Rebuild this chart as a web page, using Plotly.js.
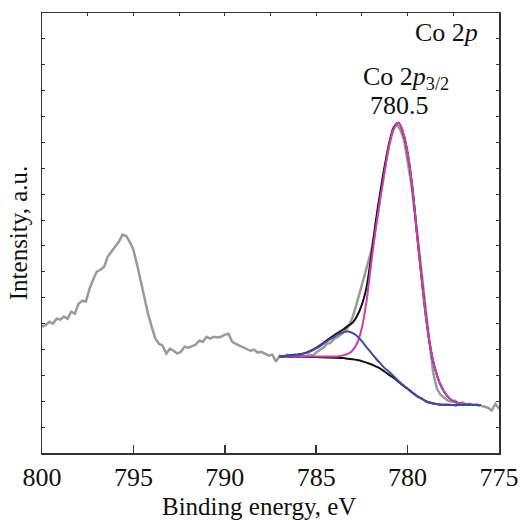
<!DOCTYPE html>
<html>
<head>
<meta charset="utf-8">
<script src="https://cdn.plot.ly/plotly-3.0.1.min.js"></script>
<style>html,body{margin:0;padding:0;background:#fff;}#chart{width:521px;height:520px;}</style>
</head>
<body>
<div id="chart"></div>
<script>
// Measured spectrum: binding energy (eV) from 800 down to 775 in 0.2 eV steps
const expEnergy = [800.0,799.8,799.6,799.4,799.2,799.0,798.8,798.6,798.4,798.2,798.0,797.8,797.6,797.4,797.2,797.0,796.8,796.6,796.4,796.2,796.0,795.8,795.6,795.4,795.2,795.0,794.8,794.6,794.4,794.2,794.0,793.8,793.6,793.4,793.2,793.0,792.8,792.6,792.4,792.2,792.0,791.8,791.6,791.4,791.2,791.0,790.8,790.6,790.4,790.2,790.0,789.8,789.6,789.4,789.2,789.0,788.8,788.6,788.4,788.2,788.0,787.8,787.6,787.4,787.2,787.0,786.8,786.6,786.4,786.2,786.0,785.8,785.6,785.4,785.2,785.0,784.8,784.6,784.4,784.2,784.0,783.8,783.6,783.4,783.2,783.0,782.8,782.6,782.4,782.2,782.0,781.8,781.6,781.4,781.2,781.0,780.8,780.6,780.4,780.2,780.0,779.8,779.6,779.4,779.2,779.0,778.8,778.6,778.4,778.2,778.0,777.8,777.6,777.4,777.2,777.0,776.8,776.6,776.4,776.2,776.0,775.8,775.6,775.4,775.2,775.0];
const expIntensity = [4.88,4.94,5.07,5.00,5.19,5.15,5.27,5.19,5.46,5.38,5.77,5.88,5.85,6.35,6.70,7.01,7.08,7.20,7.59,7.78,8.01,8.16,8.43,8.39,8.16,7.85,7.28,6.62,6.04,5.38,4.88,4.42,4.22,4.15,3.84,4.03,3.95,3.84,3.91,4.11,4.07,4.11,4.18,4.34,4.30,4.49,4.42,4.49,4.46,4.49,4.57,4.61,4.30,4.22,4.15,4.07,4.03,3.95,3.99,3.88,3.91,3.84,3.76,3.80,3.53,3.76,3.72,3.80,3.72,3.80,3.72,3.76,3.72,3.80,3.76,3.88,3.99,4.07,4.22,4.26,4.42,4.49,4.61,4.73,4.92,5.27,5.73,6.27,6.74,7.24,7.78,8.47,9.40,10.29,11.18,11.95,12.45,12.72,12.49,12.11,11.33,10.41,9.28,7.97,6.89,5.61,4.26,3.10,2.49,2.25,2.14,2.02,1.98,2.02,1.87,1.95,1.87,1.90,1.87,1.87,1.83,1.79,1.75,1.64,1.90,1.71];

// Fit curves: energy grid 787.0 -> 776.0 (0.25 eV)
const fitEnergy = [787.0,786.75,786.5,786.25,786.0,785.75,785.5,785.25,785.0,784.75,784.5,784.25,784.0,783.75,783.5,783.25,783.0,782.75,782.5,782.25,782.0,781.75,781.5,781.25,781.0,780.75,780.5,780.25,780.0,779.75,779.5,779.25,779.0,778.75,778.5,778.25,778.0,777.75,777.5,777.25,777.0,776.75,776.5,776.25,776.0];
const background = [3.73,3.73,3.72,3.72,3.72,3.72,3.71,3.71,3.71,3.70,3.69,3.69,3.68,3.67,3.67,3.64,3.62,3.59,3.55,3.49,3.43,3.35,3.26,3.14,3.01,2.90,2.75,2.61,2.48,2.34,2.21,2.11,2.00,1.94,1.90,1.87,1.86,1.86,1.85,1.85,1.85,1.85,1.85,1.85,1.85];
const envelope = [3.72,3.74,3.77,3.79,3.81,3.84,3.89,3.97,4.06,4.18,4.31,4.44,4.56,4.67,4.78,4.92,5.04,5.31,5.73,6.39,7.55,8.90,10.06,11.10,11.99,12.59,12.76,12.38,11.60,10.33,8.55,6.85,5.27,4.07,3.26,2.72,2.37,2.14,2.00,1.93,1.89,1.87,1.86,1.85,1.85];
const peakMain = [3.73,3.73,3.73,3.73,3.73,3.73,3.73,3.73,3.73,3.73,3.73,3.73,3.73,3.74,3.78,3.84,3.97,4.26,4.84,5.85,7.28,8.63,9.83,10.91,11.91,12.55,12.76,12.38,11.60,10.33,8.55,6.85,5.27,4.07,3.26,2.72,2.37,2.14,2.00,1.93,1.89,1.87,1.86,1.85,1.85];
const peakSat = [3.72,3.74,3.76,3.78,3.80,3.83,3.88,3.95,4.04,4.15,4.27,4.39,4.50,4.60,4.67,4.69,4.63,4.51,4.32,4.09,3.88,3.66,3.47,3.28,3.13,2.96,2.78,2.63,2.48,2.34,2.21,2.11,2.00,1.94,1.90,1.87,1.86,1.86,1.85,1.85,1.85,1.85,1.85,1.85,1.85];

const xTicks = [800,795,790,785,780,775];
const xTickText = ['800','795','790','785','780','775'];

const serif = 'Liberation Serif';

const traces = [
  {x: expEnergy, y: expIntensity, mode: 'lines', line: {color: '#9a9a9a', width: 2.5}, hoverinfo: 'skip'},
  {x: fitEnergy, y: background, mode: 'lines', line: {color: '#111111', width: 2, shape: 'spline'}},
  {x: fitEnergy, y: envelope, mode: 'lines', line: {color: '#111111', width: 2, shape: 'spline'}},
  {x: fitEnergy, y: peakMain, mode: 'lines', line: {color: '#cc3fb0', width: 2, shape: 'spline'}},
  {x: fitEnergy, y: peakSat, mode: 'lines', line: {color: '#3c4aae', width: 2, shape: 'spline'}},
  {x: [800, 775], y: [null, null], xaxis: 'x2', mode: 'lines', showlegend: false, hoverinfo: 'skip'}
];

const layout = {
  width: 521, height: 520,
  margin: {l: 42, r: 22, t: 13, b: 67},
  paper_bgcolor: '#ffffff', plot_bgcolor: '#ffffff',
  showlegend: false,
  font: {family: serif, color: '#111111', size: 26},
  xaxis: {
    range: [800, 775], tickmode: 'array', tickvals: xTicks, ticktext: xTickText,
    ticks: 'inside', ticklen: 8, tickwidth: 1.5, tickcolor: '#333',
    showline: true, linecolor: '#333', linewidth: 1.5, mirror: false,
    showgrid: false, zeroline: false,
    tickfont: {family: serif, size: 26, color: '#111'}
  },
  xaxis2: {
    overlaying: 'x', side: 'top', range: [800, 775], dtick: 2.5, tick0: 800,
    ticks: 'inside', ticklen: 3, tickwidth: 1, tickcolor: '#333',
    showticklabels: false, showline: true, linecolor: '#333', linewidth: 1.5,
    showgrid: false, zeroline: false
  },
  yaxis: {
    range: [0, 17], dtick: 1, tick0: 0,
    ticks: 'inside', ticklen: 3, tickwidth: 1, tickcolor: '#333',
    showticklabels: false, showline: true, linecolor: '#333', linewidth: 1.5, mirror: 'ticks',
    showgrid: false, zeroline: false,
    title: {text: 'Intensity, a.u.', font: {family: serif, size: 25, color: '#111'}, standoff: 6}
  },
  annotations: [
    {x: 0.475, y: -0.122, xref: 'paper', yref: 'paper', xanchor: 'center', yanchor: 'middle', showarrow: false,
     text: 'Binding energy, eV', font: {family: serif, size: 25, color: '#111'}},
    {x: 776.05, y: 16.24, xref: 'x', yref: 'y', xanchor: 'right', yanchor: 'middle', showarrow: false,
     text: 'Co 2<i>p</i>', font: {family: serif, size: 26, color: '#111'}},
    {x: 780.09, y: 14.5, xref: 'x', yref: 'y', xanchor: 'center', yanchor: 'middle', showarrow: false,
     text: 'Co 2<i>p</i><sub>3/2</sub>', font: {family: serif, size: 26, color: '#111'}},
    {x: 780.47, y: 13.42, xref: 'x', yref: 'y', xanchor: 'center', yanchor: 'middle', showarrow: false,
     text: '780.5', font: {family: serif, size: 26, color: '#111'}}
  ]
};

Plotly.newPlot('chart', traces, layout, {displayModeBar: false, staticPlot: true});
</script>
</body>
</html>
